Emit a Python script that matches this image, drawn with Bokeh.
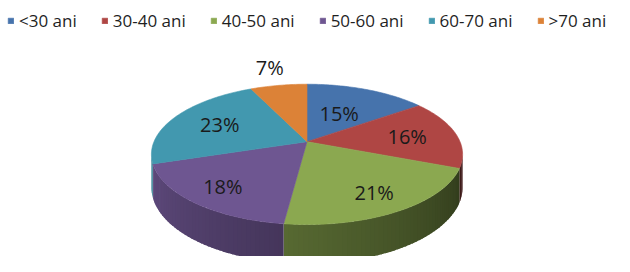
import numpy as np
from bokeh.plotting import figure
from bokeh.models import Range1d, ColumnDataSource, Legend, LegendItem
from bokeh.core.properties import value
from bokeh.embed import file_html
from bokeh.resources import INLINE

# ---- data ----
categories = ["<30 ani", "30-40 ani", "40-50 ani", "50-60 ani", "60-70 ani", ">70 ani"]
shares = [15, 16, 21, 18, 23, 7]
labels = ["15%", "16%", "21%", "18%", "23%", "7%"]

# ---- style ----
colors = ["#4673ac", "#af4644", "#8ba850", "#6e5691", "#4298af", "#dc8237"]
label_r = [0.50, 0.67, 0.76, 0.77, 0.65, 1.39]

# perspective pie geometry (chart units = reference pixels)
CX, CY, A, B, K, H = 314.5, 150.0, 157.0, 72.1, 0.181, 34.0


def proj(r, phi, drop=0.0):
    ph = np.radians(phi)
    x = r * np.sin(ph)
    y = r * np.cos(ph)
    s = 1.0 / (1.0 + K * y)
    return CX + A * x * s, CY - B * y * s + drop * s


def hex2rgb(h):
    h = h.lstrip("#")
    return tuple(int(h[i:i + 2], 16) for i in (0, 2, 4))


def shade(h, f):
    r, g, b = hex2rgb(h)
    return "#%02x%02x%02x" % (int(r * f), int(g * f), int(b * f))


def wall_factor(phi):
    return min(0.9, max(0.33, 0.36 + 0.0035 * (phi - 110)))


total = float(sum(shares))
bounds = np.concatenate([[0.0], np.cumsum(shares) / total * 360.0])

W, HT = 614, 256
p = figure(width=W, height=HT, output_backend="svg", toolbar_location=None,
           x_range=Range1d(0, 630), y_range=Range1d(272, 0),
           min_border=0)
p.axis.visible = False
p.grid.visible = False
p.outline_line_color = None
p.background_fill_color = "white"
p.border_fill_color = "white"

# ---- side walls (front arc only), gradient strips ----
phi_r = np.degrees(np.arccos(-K))
phi_l = 360.0 - phi_r
wx, wy, wc = [], [], []
for i in range(len(shares)):
    a0, a1 = max(bounds[i], phi_r), min(bounds[i + 1], phi_l)
    if a1 <= a0:
        continue
    n = max(2, int((a1 - a0) / 1.5))
    ang = np.linspace(a0, a1, n + 1)
    for j in range(n):
        t0 = ang[j]
        t1 = min(ang[j + 1] + 0.8, a1)
        seg = np.linspace(t0, t1, 3)
        tx, ty = proj(1, seg)
        dx, dy = proj(1, seg[::-1], H)
        c = shade(colors[i], wall_factor(0.5 * (ang[j] + ang[j + 1])))
        wx.append(list(tx) + list(dx))
        wy.append(list(ty) + list(dy))
        wc.append(c)
p.patches(wx, wy, fill_color=wc, line_color=None)

# ---- top faces ----
xs, ys = [], []
for i in range(len(shares)):
    ang = np.linspace(bounds[i], bounds[i + 1], max(3, int(bounds[i + 1] - bounds[i]) + 1))
    px, py = proj(1, ang)
    xs.append([CX] + list(px))
    ys.append([CY] + list(py))
src = ColumnDataSource(dict(xs=xs, ys=ys, color=colors, cat=categories))
top = p.patches("xs", "ys", source=src, fill_color="color", line_color="color", line_width=0.6)

# ---- data labels ----
mids = 0.5 * (bounds[:-1] + bounds[1:])
lx, ly = [], []
for i in range(len(shares)):
    x, y = proj(label_r[i], mids[i])
    lx.append(x)
    ly.append(y)
p.text(lx, ly, text=labels, text_align="center", text_baseline="middle",
       text_font=value("Open Sans"), text_font_size="20px", text_color="#1a1a1a")

# ---- legend ----
items = [LegendItem(label=c, renderers=[top], index=i) for i, c in enumerate(categories)]
legend = Legend(items=items, orientation="horizontal", location=(7, 224),
                glyph_width=7, glyph_height=7, label_standoff=5, spacing=24,
                padding=0, margin=0, border_line_alpha=0, background_fill_alpha=0,
                label_text_font="Open Sans", label_text_font_size="17px",
                label_text_color="#1f1f1f", label_height=17)
p.add_layout(legend)

open("out.html", "w").write(file_html(p, INLINE))
